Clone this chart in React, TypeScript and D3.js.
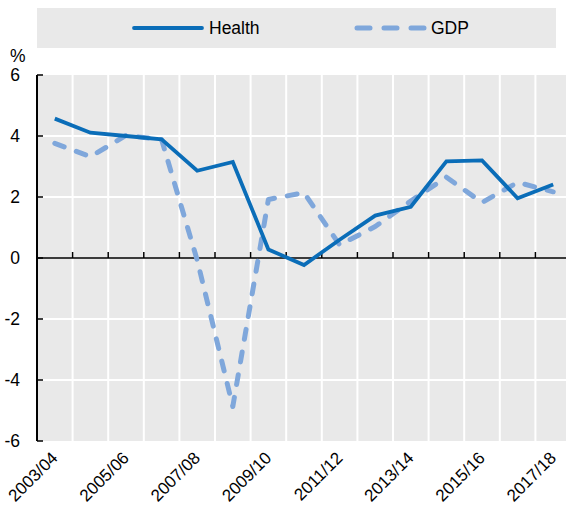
import React from "react";
import * as d3 from "d3";

const categories = [
  "2003/04", "2004/05", "2005/06", "2006/07", "2007/08", "2008/09", "2009/10", "2010/11",
  "2011/12", "2012/13", "2013/14", "2014/15", "2015/16", "2016/17", "2017/18",
];
const healthValues = [4.57, 4.11, 4.0, 3.89, 2.86, 3.15, 0.28, -0.23, 0.6, 1.39, 1.68, 3.17, 3.2, 1.96, 2.41];
const gdpValues = [3.76, 3.32, 4.02, 3.88, -0.07, -4.87, 1.92, 2.14, 0.43, 1.03, 1.87, 2.65, 1.82, 2.48, 2.17];
const yTicks = [-6, -4, -2, 0, 2, 4, 6];
const xLabels = ["2003/04", "2005/06", "2007/08", "2009/10", "2011/12", "2013/14", "2015/16", "2017/18"];
const seriesNames = ["Health", "GDP"];

const W = 566;
const H = 506;
const FONT = "'Liberation Sans', Arial, sans-serif";
const HEALTH = "#0a6db8";
const GDP = "#7fa7db";
const BG = "#e9e9e9";

export default function App() {
  const left = 37;
  const step = 35.6;
  const x = d3.scaleBand<string>().domain(categories).range([left, left + step * categories.length]).padding(0);
  const bw = x.bandwidth();
  const y = d3.scaleLinear().domain([-6, 6]).range([441, 75]);
  const cx = (c: string) => (x(c) as number) + bw / 2;

  const line = d3
    .line<number>()
    .x((_, i) => cx(categories[i]))
    .y((d) => y(d));

  const right = left + step * categories.length;
  const boundaries = categories.slice(1).map((c) => x(c) as number);

  return (
    <svg
      width={W}
      height={H}
      style={{ position: "absolute", left: 0, top: 0, background: "#fff" }}
      fontFamily={FONT}
    >
      {/* legend */}
      <rect x={37} y={8} width={519} height={40} fill={BG} />
      <line x1={134} x2={202} y1={28} y2={28} stroke={HEALTH} strokeWidth={3.8} strokeLinecap="round" />
      <text x={209} y={28} dy="0.35em" fontSize={17.5} fill="#000">{seriesNames[0]}</text>
      <line x1={357} x2={424} y1={28} y2={28} stroke={GDP} strokeWidth={5} strokeLinecap="round" strokeDasharray="13,14" />
      <text x={431} y={28} dy="0.35em" fontSize={17.5} fill="#000">{seriesNames[1]}</text>

      {/* plot background */}
      <rect x={left} y={y(6)} width={right - left} height={y(-6) - y(6)} fill={BG} />
      {boundaries.map((b, i) => (
        <line key={"vg" + i} x1={b} x2={b} y1={y(6)} y2={y(-6)} stroke="#fff" strokeWidth={2} />
      ))}
      {yTicks.filter((t) => t !== 0 && t !== -6 && t !== 6).map((t) => (
        <line key={"hg" + t} x1={left} x2={right} y1={y(t)} y2={y(t)} stroke="#fff" strokeWidth={2} />
      ))}

      {/* zero line with ticks */}
      <line x1={left} x2={right} y1={y(0)} y2={y(0)} stroke="#000" strokeWidth={1.5} />
      {boundaries.map((b, i) => (
        <line key={"xt" + i} x1={b} x2={b} y1={y(0)} y2={y(0) - 6} stroke="#000" strokeWidth={1.5} />
      ))}

      {/* y axis */}
      <line x1={left} x2={left} y1={y(6)} y2={y(-6)} stroke="#000" strokeWidth={2} />
      {yTicks.map((t) => (
        <g key={"yt" + t}>
          <line x1={left} x2={left + 6} y1={y(t)} y2={y(t)} stroke="#000" strokeWidth={1.5} />
          <text x={20} y={y(t)} dy="0.36em" textAnchor="end" fontSize={17.5} fill="#000">
            {t}
          </text>
        </g>
      ))}
      <text x={10} y={62} fontSize={17.5} fill="#000">%</text>

      {/* series */}
      <path d={line(gdpValues) || ""} fill="none" stroke={GDP} strokeWidth={5} strokeDasharray="10,13" strokeLinecap="round" strokeLinejoin="round" />
      <path d={line(healthValues) || ""} fill="none" stroke={HEALTH} strokeWidth={3.8} strokeLinejoin="miter" />

      {/* x labels */}
      {xLabels.map((c) => (
        <text
          key={c}
          transform={`translate(${cx(c) + 4},${459}) rotate(-45)`}
          textAnchor="end"
          fontSize={17}
          fill="#000"
        >
          {c}
        </text>
      ))}
    </svg>
  );
}
